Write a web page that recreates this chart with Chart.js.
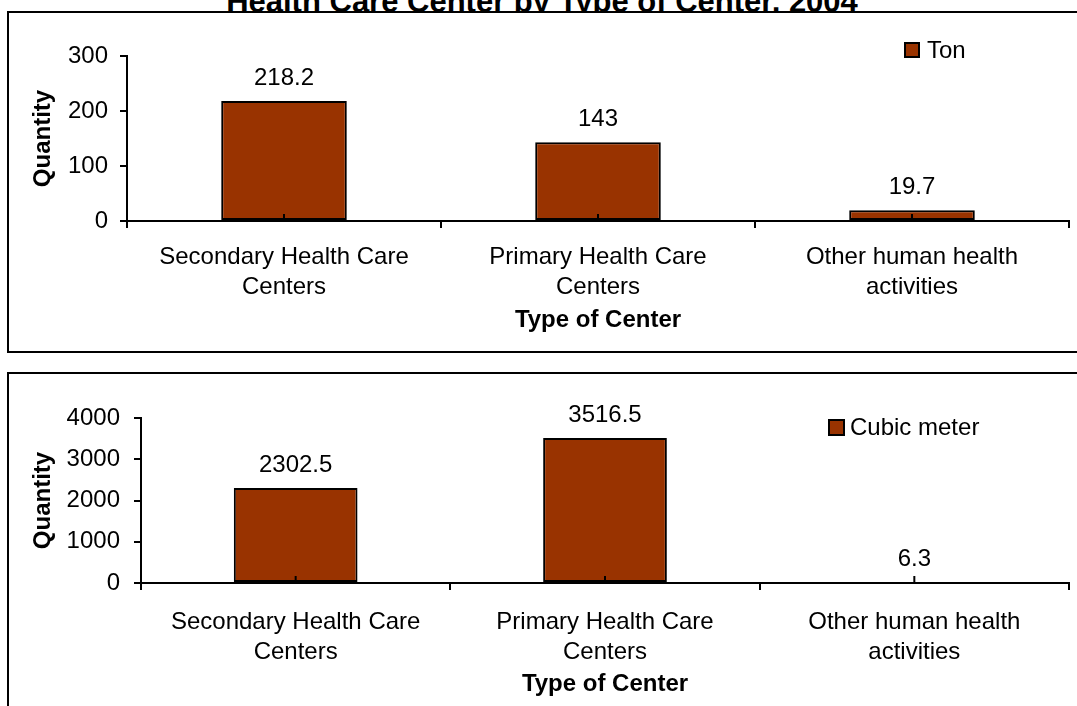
<!DOCTYPE html>
<html>
<head>
<meta charset="UTF-8" />
<title>Health Care Center by Type of Center, 2004</title>
<script src="https://cdn.jsdelivr.net/npm/chart.js"></script>
<style>
  body { margin: 0; width: 1077px; height: 706px; overflow: hidden; background: #fff; position: relative;
         font-family: "Liberation Sans", Arial, sans-serif; }
  #mainTitle { position: absolute; left: 0; width: 1084px; top: -14px; text-align: center;
               font-weight: bold; font-size: 31px; line-height: 31px; white-space: nowrap; color: #000; }
  .panel { position: absolute; left: 7px; width: 1100px; border: 2px solid #000; background: #fff; }
  #panelTon { top: 11px; height: 338px; }
  #panelCubic { top: 372px; height: 400px; }
  canvas { position: absolute; left: 0; }
  #tonChart { top: 0; }
  #cubicChart { top: 360px; }
</style>
</head>
<body>
<div id="mainTitle">Health Care Center by Type of Center, 2004</div>
<div class="panel" id="panelTon"></div>
<div class="panel" id="panelCubic"></div>
<canvas id="tonChart" width="1077" height="353"></canvas>
<canvas id="cubicChart" width="1077" height="346"></canvas>

<script>
// categories shared by both panels
const centerTypes = [
    ['Secondary Health Care', 'Centers'],
    ['Primary Health Care', 'Centers'],
    ['Other human health', 'activities']
];

// waste weighed in tons
const tonValues = [218.2, 143, 19.7];
const tonTicks = [0, 100, 200, 300];

// waste measured in cubic meters
const cubicValues = [2302.5, 3516.5, 6.3];
const cubicTicks = [0, 1000, 2000, 3000, 4000];

const barColor = '#993300';
const fontSize = 24;
const fontFamily = '"Liberation Sans", Arial, sans-serif';
Chart.defaults.font.family = fontFamily;
Chart.defaults.color = '#000';

// value over each bar, legend box and the small center mark at the bar base
const barExtras = {
    id: 'barExtras',
    afterDatasetsDraw(chart, args, opts) {
        const ctx = chart.ctx;
        const meta = chart.getDatasetMeta(0);
        const values = chart.data.datasets[0].data;
        ctx.save();
        meta.data.forEach((bar, i) => {
            ctx.strokeStyle = '#000';
            ctx.lineWidth = 2;
            ctx.beginPath();
            ctx.moveTo(bar.x, bar.base);
            ctx.lineTo(bar.x, bar.base - 6);
            ctx.stroke();

            ctx.fillStyle = '#000';
            ctx.font = fontSize + 'px ' + fontFamily;
            ctx.textAlign = 'center';
            ctx.textBaseline = 'middle';
            ctx.fillText(String(values[i]), bar.x, bar.y - 23);
        });

        // legend
        const lg = opts.legend;
        ctx.fillStyle = barColor;
        ctx.fillRect(lg.x, lg.y, lg.size, lg.size);
        ctx.strokeStyle = '#000';
        ctx.lineWidth = 2;
        ctx.strokeRect(lg.x + 1, lg.y + 1, lg.size - 2, lg.size - 2);
        ctx.fillStyle = '#000';
        ctx.font = fontSize + 'px ' + fontFamily;
        ctx.textAlign = 'left';
        ctx.textBaseline = 'middle';
        ctx.fillText(chart.data.datasets[0].label, lg.x + lg.size + lg.gap, lg.y + lg.size / 2 + 1);
        ctx.restore();
    }
};

function makeChart(canvasId, label, values, ticks, geo) {
    const maxTick = ticks[ticks.length - 1];
    const step = ticks[1] - ticks[0];
    return new Chart(document.getElementById(canvasId), {
        type: 'bar',
        data: {
            labels: centerTypes,
            datasets: [{
                label: label,
                data: values,
                backgroundColor: barColor,
                borderColor: '#000',
                borderWidth: 2,
                borderSkipped: false,
                barPercentage: 0.4,
                categoryPercentage: 1.0
            }]
        },
        options: {
            responsive: false,
            animation: false,
            events: [],
            layout: { padding: { top: geo.top, right: 8, bottom: 0, left: 0 } },
            plugins: {
                legend: { display: false },
                tooltip: { enabled: false },
                barExtras: { legend: geo.legend }
            },
            scales: {
                x: {
                    grid: { offset: true, drawOnChartArea: false, drawTicks: true, tickLength: 7, color: '#000', lineWidth: 2 },
                    border: { color: '#000', width: 2 },
                    ticks: { autoSkip: false, maxRotation: 0, padding: geo.xPad, font: { size: fontSize, lineHeight: 1.25 } },
                    title: { display: true, text: 'Type of Center', font: { size: fontSize, weight: 'bold' }, padding: { top: 0, bottom: geo.xTitlePad } },
                    afterFit: s => { s.height = geo.xHeight; }
                },
                y: {
                    min: 0,
                    max: maxTick,
                    grid: { drawOnChartArea: false, drawTicks: true, tickLength: 7, color: '#000', lineWidth: 2 },
                    border: { color: '#000', width: 2 },
                    ticks: { stepSize: step, padding: geo.yPad, font: { size: fontSize }, callback: v => String(v) },
                    title: { display: true, text: 'Quantity', font: { size: fontSize, weight: 'bold' }, padding: { top: 29, bottom: 0 } },
                    afterFit: s => { s.width = geo.yWidth; }
                }
            }
        },
        plugins: [barExtras]
    });
}

makeChart('tonChart', 'Ton', tonValues, tonTicks, {
    top: 56, xHeight: 132, yWidth: 127, yPad: 12, xPad: 14, xTitlePad: 18,
    legend: { x: 904, y: 42, size: 16, gap: 7 }
});

makeChart('cubicChart', 'Cubic meter', cubicValues, cubicTicks, {
    top: 58, xHeight: 123, yWidth: 141, yPad: 14, xPad: 17, xTitlePad: 7,
    legend: { x: 828, y: 59, size: 17, gap: 5 }
});
</script>
</body>
</html>
